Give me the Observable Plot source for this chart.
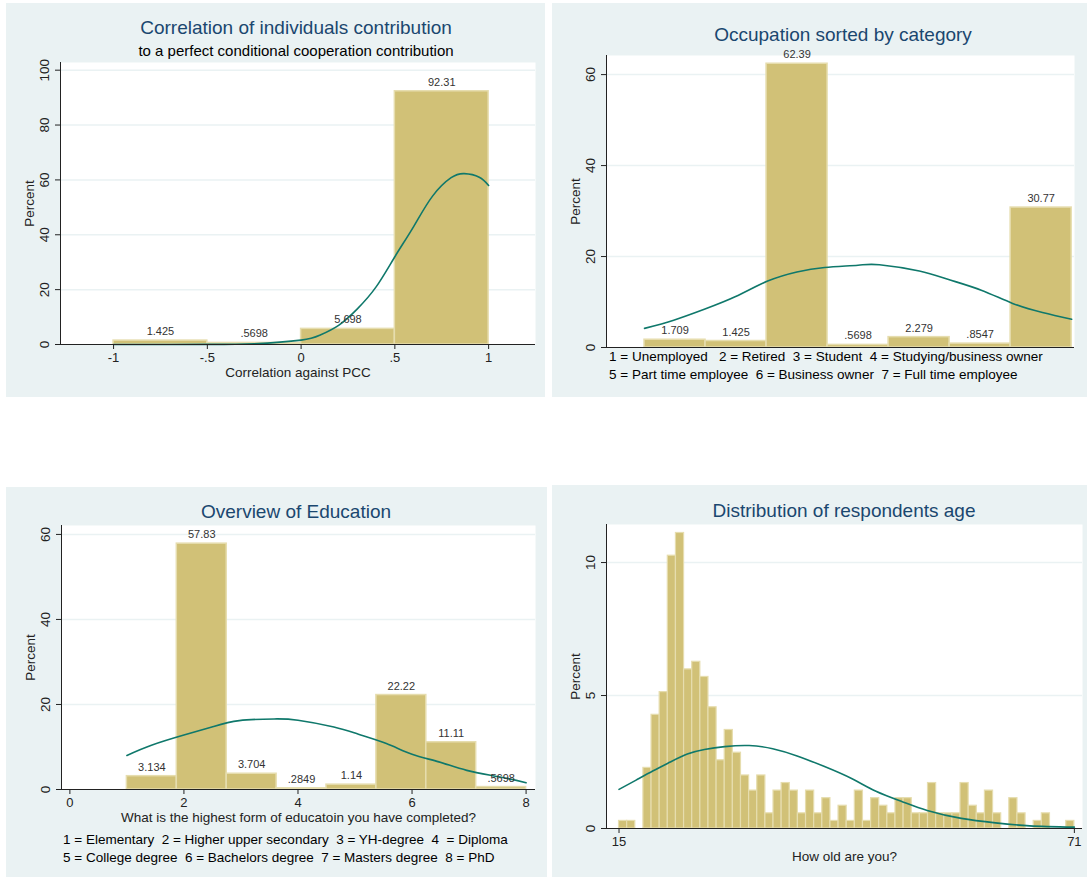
<!DOCTYPE html>
<html><head><meta charset="utf-8">
<script src="https://cdn.jsdelivr.net/npm/d3@7"></script>
<script src="https://cdn.jsdelivr.net/npm/@observablehq/plot@0.6"></script>
<style>
body{margin:0;background:#fff;font-family:"Liberation Sans",Arial,sans-serif;}
#root{position:relative;width:1087px;height:878px;overflow:hidden;background:#fff;}
.panel{position:absolute;background:#EAF2F3;}
.panel svg{position:absolute;left:0;top:0;}
.title{position:absolute;transform:translate(-50%,-50%);white-space:nowrap;color:#1A476F;font-size:19px;}
.sub{position:absolute;transform:translate(-50%,-50%);white-space:nowrap;color:#000;font-size:15px;}
.note{position:absolute;white-space:pre;font-size:13.5px;color:#000;transform:translateY(-50%);}
</style></head><body><div id="root"></div>
<script>
// ---------- Panel 1: correlation against PCC ----------
const corrBinStart = [-1, -0.5, 0, 0.5];
const corrBinEnd   = [-0.5, 0, 0.5, 1];
const corrPercent  = [1.425, 0.5698, 5.698, 92.31];
const corrCurveX = [-1, -0.75, -0.5, -0.25, 0, 0.1, 0.2, 0.3, 0.4, 0.5, 0.6, 0.7, 0.8, 0.87, 0.95, 1];
const corrCurveY = [0.0, 0.0, 0.05, 0.3, 1.6, 3.4, 7.0, 13, 21, 32, 43, 54, 60.8, 62.3, 61, 58];
const corrXTicks = [-1, -0.5, 0, 0.5, 1];
const corrXTickLabels = ["-1", "-.5", "0", ".5", "1"];
const corrYTicks = [0, 20, 40, 60, 80, 100];

// ---------- Panel 2: occupation ----------
const occCategories = [1, 2, 3, 4, 5, 6, 7];
const occPercent = [1.709, 1.425, 62.39, 0.5698, 2.279, 0.8547, 30.77];
const occCurveX = [1.0, 1.41, 1.84, 2.28, 2.73, 3.14, 3.53, 4.0, 4.3, 4.86, 5.26, 5.73, 6.17, 6.59, 7.0];
const occCurveY = [4.2, 6.0, 8.4, 11.2, 14.6, 16.6, 17.6, 18.1, 18.2, 16.8, 15.0, 12.6, 9.7, 7.7, 6.2];
const occYTicks = [0, 20, 40, 60];
const occNotes = ["1 = Unemployed   2 = Retired  3 = Student  4 = Studying/business owner",
                  "5 = Part time employee  6 = Business owner  7 = Full time employee"];

// ---------- Panel 3: education ----------
const eduCategories = [1, 2, 3, 4, 5, 6, 7, 8];
const eduPercent = [3.134, 57.83, 3.704, 0.2849, 1.14, 22.22, 11.11, 0.5698];
const eduCurveX = [1.0, 1.43, 2.0, 2.49, 2.97, 3.58, 4.0, 4.63, 5.06, 5.55, 6.0, 6.47, 6.96, 7.52, 8.0];
const eduCurveY = [8.0, 10.4, 12.8, 14.7, 16.2, 16.6, 16.3, 14.7, 13.0, 10.8, 8.3, 6.5, 4.5, 3.0, 1.6];
const eduXTicks = [0, 2, 4, 6, 8];
const eduXTickLabels = ["0", "2", "4", "6", "8"];
const eduYTicks = [0, 20, 40, 60];
const eduNotes = ["1 = Elementary  2 = Higher upper secondary  3 = YH-degree  4  = Diploma",
                  "5 = College degree  6 = Bachelors degree  7 = Masters degree  8 = PhD"];

// ---------- Panel 4: age ----------
const ageBins = [15,16,17,18,19,20,21,22,23,24,25,26,27,28,29,30,31,32,33,34,35,36,37,38,39,40,41,42,
                 43,44,45,46,47,48,49,50,51,52,53,54,55,56,57,58,59,60,61,62,63,64,65,66,67,68,69,70];
const agePercent = [0.285,0.285,0,2.279,4.274,5.128,10.256,11.111,5.983,6.268,5.698,4.558,2.564,3.704,
                    2.849,1.994,1.425,1.994,0.570,1.425,1.709,1.425,0.570,1.425,0.570,1.140,0.285,0.855,
                    0.285,1.425,0.285,1.140,0.855,0.570,1.140,1.140,0.570,0.570,1.709,0.570,0.570,0.570,
                    1.709,0.855,0.570,1.425,0.570,0,1.140,0.570,0,0.285,0.570,0,0,0.285];
const ageCurveX = [15, 17.1, 19.2, 21.3, 23.4, 25.5, 28, 31, 33.9, 36.9, 40.2, 43.6, 46.6, 49.9, 52.9, 57.1, 61.3, 65.5, 71];
const ageCurveY = [1.47, 1.82, 2.17, 2.5, 2.8, 2.97, 3.08, 3.12, 3.0, 2.73, 2.34, 1.88, 1.4, 1.0, 0.68, 0.38, 0.21, 0.10, 0.05];
const ageXTicks = [15, 71];
const ageXTickLabels = ["15", "71"];
const ageYTicks = [0, 5, 10];

// ---------- styling ----------
const BAR = "#D1C177", BAR_EDGE = "#E6DDAE", CURVE = "#0F786B", AX = "#222", GRID = "#EAF2F3";
const FS = 13.5;
const fmtVal = v => d3.format(".4~g")(v).replace(/^(-?)0\./, "$1.");
const root = document.getElementById("root");

function addText(cls, text, x, y) {
  const d = document.createElement("div");
  d.className = cls; d.textContent = text;
  d.style.left = x + "px"; d.style.top = y + "px";
  root.appendChild(d);
}

function panel(o) {
  const div = document.createElement("div");
  div.className = "panel";
  Object.assign(div.style, {left: o.left + "px", top: o.top + "px", width: o.width + "px", height: o.height + "px"});
  const bars = o.bars.filter(d => d.y > 0);
  const curve = o.curveX.map((x, i) => ({x, y: o.curveY[i]}));
  const xMap = o.xTicks ? new Map(o.xTicks.map((t, i) => [t, o.xTickLabels[i]])) : null;
  const marks = [
    Plot.frame({fill: "white"}),
    Plot.ruleY(o.yTicks.filter(t => t > 0), {stroke: GRID, strokeWidth: 1.5}),
    Plot.rectY(bars, {x1: "x1", x2: "x2", y: "y", fill: BAR, stroke: BAR_EDGE, strokeWidth: o.edge || 1.5}),
    Plot.line(curve, {x: "x", y: "y", curve: "natural", stroke: CURVE, strokeWidth: 1.6}),
    o.labels ? Plot.text(bars, {x: d => (d.x1 + d.x2) / 2, y: "y", text: d => fmtVal(d.y), dy: -9, fontSize: 11, fill: "#333"}) : null,
    Plot.ruleX([o.xDomain[0]], {stroke: AX}),
    Plot.ruleY([0], {stroke: AX}),
    Plot.axisY({ticks: o.yTicks, tickSize: 5, tickFormat: () => "", label: null}),
    Plot.text(o.yTicks, {y: d => d, text: d => String(d), frameAnchor: "left", textAnchor: "middle", dx: -16, rotate: -90, fontSize: FS}),
    o.xTicks ? Plot.axisX({ticks: o.xTicks, tickSize: 5, tickPadding: 3, tickFormat: d => xMap.get(d), fontSize: 13, label: null}) : null,
    Plot.text(["Percent"], {frameAnchor: "left", textAnchor: "middle", dx: -31, rotate: -90, text: d => d, fontSize: FS}),
    o.xTitle ? Plot.text([o.xTitle], {frameAnchor: "bottom", textAnchor: "middle", dy: 32, text: d => d, fontSize: FS}) : null
  ].filter(Boolean);
  const svg = Plot.plot({
    width: o.width, height: o.height,
    marginLeft: o.mL, marginRight: o.mR, marginTop: o.mT, marginBottom: o.mB,
    x: {domain: o.xDomain, axis: o.xTicks ? undefined : null},
    y: {domain: o.yDomain},
    style: {background: "transparent", color: AX, fontFamily: '"Liberation Sans", Arial, sans-serif', overflow: "visible"},
    marks
  });
  div.appendChild(svg);
  root.appendChild(div);
}

// Panel 1
panel({
  left: 6, top: 3, width: 539, height: 394, mL: 54, mR: 10, mT: 59, mB: 53,
  xDomain: [-1.283, 1.25], yDomain: [0, 102.8],
  bars: corrPercent.map((y, i) => ({x1: corrBinStart[i], x2: corrBinEnd[i], y})),
  curveX: corrCurveX, curveY: corrCurveY, labels: true,
  yTicks: corrYTicks, xTicks: corrXTicks, xTickLabels: corrXTickLabels,
  xTitle: "Correlation against PCC"
});
addText("title", "Correlation of individuals contribution", 296, 28);
addText("sub", "to a perfect conditional cooperation contribution", 296, 50);

// Panel 2
const occW = (occCategories[occCategories.length - 1] - occCategories[0]) / occCategories.length;
panel({
  left: 552, top: 3, width: 535, height: 394, mL: 54, mR: 13, mT: 52, mB: 50,
  xDomain: [0.466, 7.04], yDomain: [0, 64.2],
  bars: occPercent.map((y, i) => ({x1: 1 + i * occW, x2: 1 + (i + 1) * occW, y})),
  curveX: occCurveX, curveY: occCurveY, labels: true,
  yTicks: occYTicks
});
addText("title", "Occupation sorted by category", 843, 35);
addText("note", occNotes[0], 609, 356);
addText("note", occNotes[1], 609, 374);

// Panel 3
const eduW = (eduCategories[eduCategories.length - 1] - eduCategories[0]) / eduCategories.length;
panel({
  left: 6, top: 487, width: 541, height: 390, mL: 55, mR: 12, mT: 38, mB: 88,
  xDomain: [-0.147, 8.165], yDomain: [0, 62.1],
  bars: eduPercent.map((y, i) => ({x1: 1 + i * eduW, x2: 1 + (i + 1) * eduW, y})),
  curveX: eduCurveX, curveY: eduCurveY, labels: true,
  yTicks: eduYTicks, xTicks: eduXTicks, xTickLabels: eduXTickLabels,
  xTitle: "What is the highest form of educatoin you have completed?"
});
addText("title", "Overview of Education", 296, 512);
addText("note", eduNotes[0], 63, 839);
addText("note", eduNotes[1], 63, 857);

// Panel 4
panel({
  left: 552, top: 485, width: 535, height: 392, mL: 54, mR: 5, mT: 39, mB: 49,
  xDomain: [13.46, 72.0], yDomain: [0, 11.43],
  bars: agePercent.map((y, i) => ({x1: ageBins[i], x2: ageBins[i] + 1, y})),
  curveX: ageCurveX, curveY: ageCurveY, labels: false, edge: 1.2,
  yTicks: ageYTicks, xTicks: ageXTicks, xTickLabels: ageXTickLabels,
  xTitle: "How old are you?"
});
addText("title", "Distribution of respondents age", 844, 511);
</script></body></html>
